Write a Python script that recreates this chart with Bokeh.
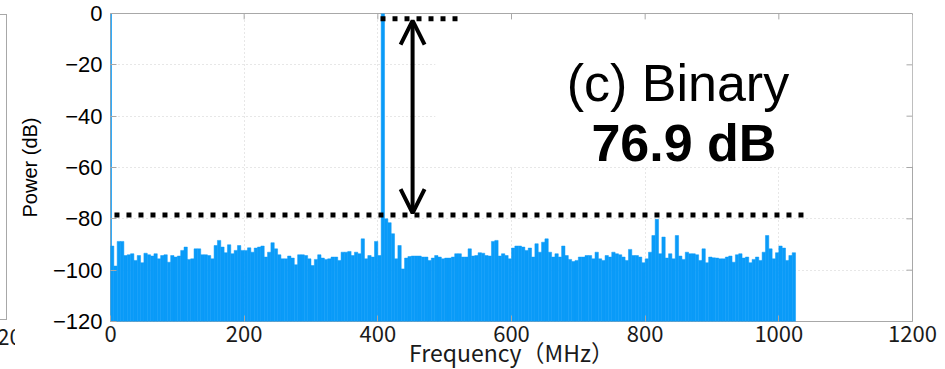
import numpy as np
from bokeh.plotting import figure
from bokeh.layouts import row
from bokeh.models import Arrow, OpenHead, Label, FixedTicker, Range1d, Div
from bokeh.embed import file_html
from bokeh.resources import INLINE

# ---------------- data ----------------
BIN_MHZ = 5.0
power_db = [
    -90.6, -98.4, -88.8, -88.8, -94.3, -94.0, -93.6, -96.2, -94.3, -97.1,
    -93.4, -94.0, -94.5, -93.6, -95.6, -94.3, -94.0, -96.9, -94.3, -94.9,
    -94.5, -92.3, -91.0, -95.8, -95.6, -91.7, -91.7, -94.0, -94.0, -94.3,
    -95.6, -90.4, -88.4, -91.0, -93.2, -90.1, -93.6, -92.3, -90.4, -92.3,
    -92.3, -91.3, -93.0, -91.4, -91.0, -90.6, -94.9, -93.0, -89.3, -91.7,
    -94.0, -95.6, -95.6, -94.5, -95.3, -97.9, -94.0, -94.0, -94.3, -95.6,
    -98.2, -95.8, -94.0, -95.3, -95.8, -95.6, -94.9, -94.9, -96.2, -93.0,
    -93.0, -92.7, -94.3, -93.0, -93.6, -87.8, -95.6, -94.3, -94.9, -88.8,
    -94.3, 0.0, -80.0, -81.5, -85.8, -95.6, -90.4, -99.5, -95.3, -94.7,
    -94.5, -94.5, -94.5, -94.9, -94.9, -96.2, -95.3, -94.3, -94.9, -95.6,
    -95.3, -95.3, -94.9, -93.6, -93.6, -94.9, -94.9, -91.7, -94.5, -94.3,
    -93.2, -93.4, -94.3, -94.5, -88.8, -88.4, -94.5, -93.6, -94.3, -95.6,
    -91.4, -90.6, -90.6, -91.0, -92.3, -91.4, -94.9, -89.7, -93.0, -89.1,
    -87.8, -93.0, -94.9, -93.6, -94.9, -90.6, -94.3, -95.8, -96.6, -96.2,
    -94.9, -94.9, -94.3, -94.3, -95.6, -93.0, -95.6, -96.2, -94.3, -94.9,
    -93.0, -93.6, -94.0, -94.9, -96.2, -91.9, -94.3, -94.3, -94.9, -97.1,
    -95.6, -93.0, -86.5, -80.2, -93.6, -87.1, -95.3, -93.6, -95.6, -86.5,
    -94.5, -95.8, -93.0, -93.6, -93.6, -94.0, -96.2, -91.7, -97.1, -94.9,
    -95.2, -95.3, -95.6, -95.6, -94.9, -94.5, -96.9, -94.0, -93.6, -95.3,
    -94.9, -97.1, -95.8, -94.9, -96.2, -93.0, -86.5, -91.7, -95.6, -93.2,
    -90.6, -91.4, -96.2, -94.3, -93.2,
]
dc_freq_mhz = [1.0]
dc_power_db = [0.0]

x_ticks = [0, 200, 400, 600, 800, 1000, 1200]
x_tick_labels = ["0", "200", "400", "600", "800", "1000", "1200"]
y_ticks = [-120, -100, -80, -60, -40, -20, 0]
y_tick_labels = ["\u2212120", "\u2212100", "\u221280", "\u221260", "\u221240", "\u221220", "0"]

carrier_ref_db = -2.0
carrier_marker_mhz = [404, 521]
floor_ref_db = -78.5
floor_marker_mhz = [-12, 1044]
arrow_x_mhz = 452
arrow_top_db = -2.8
arrow_bottom_db = -77.8

title_text = "(c) Binary"
sfdr_text = "76.9 dB"
x_label = "Frequency\uff08MHz\uff09"
y_label = "Power (dB)"

neighbour_tick_label = "1200"   # last x tick of the neighbouring panel, cut by the crop

BLUE = "#0A9BF8"
FRAME = "#a8a8a8"
GRID = "#cfcfcf"

freq_mhz = [BIN_MHZ * (k + 0.5) for k in range(len(power_db))]

# ---------------- remnant of the neighbouring panel (left edge) ----------------
remnant_html = (
    '<div style="position:relative;width:15px;height:369px;overflow:hidden;background:white;">'
    '<div style="position:absolute;left:-120px;top:14px;width:127px;height:306px;'
    'border:1px solid %s;box-sizing:border-box;"></div>'
    '<div style="position:absolute;left:-15px;top:322px;font-family:\'Noto Sans CJK JP\';'
    'font-size:22px;line-height:26px;color:#1a1a1a;white-space:nowrap;">%s</div>'
    '</div>' % (FRAME, neighbour_tick_label)
)
remnant = Div(text=remnant_html, width=15, height=369, margin=0)

# ---------------- main figure ----------------
p = figure(frame_width=802, frame_height=308,
           x_range=Range1d(0, 1200), y_range=Range1d(-120, 0),
           output_backend="svg", toolbar_location=None,
           min_border_left=93, min_border_right=35,
           min_border_top=13, min_border_bottom=48)
p.background_fill_color = "white"
p.border_fill_color = "white"
p.outline_line_color = FRAME
p.outline_line_width = 1

for ax in (p.xaxis[0], p.yaxis[0]):
    ax.axis_line_color = None
    ax.major_tick_in = 6
    ax.major_tick_out = 0
    ax.minor_tick_line_color = None
    ax.major_tick_line_color = FRAME

p.xaxis[0].ticker = FixedTicker(ticks=x_ticks)
p.xaxis[0].major_label_overrides = dict(zip(x_ticks, x_tick_labels))
p.xaxis[0].major_label_text_font = "Noto Sans CJK JP"
p.xaxis[0].major_label_text_font_size = "22px"
p.xaxis[0].major_label_text_color = "#1a1a1a"
p.xaxis[0].major_label_standoff = 4
p.xaxis[0].axis_label = x_label
p.xaxis[0].axis_label_text_font = "Noto Sans CJK JP"
p.xaxis[0].axis_label_text_font_size = "23px"
p.xaxis[0].axis_label_text_font_style = "normal"
p.xaxis[0].axis_label_text_color = "#1a1a1a"
p.xaxis[0].axis_label_standoff = -10

p.yaxis[0].ticker = FixedTicker(ticks=y_ticks)
p.yaxis[0].major_label_overrides = dict(zip(y_ticks, y_tick_labels))
p.yaxis[0].major_label_text_font = "Liberation Sans"
p.yaxis[0].major_label_text_font_size = "22px"
p.yaxis[0].major_label_text_color = "black"
p.yaxis[0].major_label_standoff = 8
p.yaxis[0].axis_label = y_label
p.yaxis[0].axis_label_text_font = "Liberation Sans"
p.yaxis[0].axis_label_text_font_size = "20px"
p.yaxis[0].axis_label_text_font_style = "normal"
p.yaxis[0].axis_label_text_color = "black"
p.yaxis[0].axis_label_standoff = 9

p.xgrid.ticker = FixedTicker(ticks=x_ticks)
p.ygrid.ticker = FixedTicker(ticks=y_ticks)
p.grid.grid_line_color = GRID
p.grid.grid_line_dash = "1 3"
p.grid.grid_line_width = 1

# white text box that hides the grid in the upper right
p.quad(left=[486], right=[1200], bottom=[-59.7], top=[-0.6],
       fill_color="white", line_color=None)

# mirrored tick marks on the top and right edges
inner_x = x_ticks[1:-1]
inner_y = y_ticks[1:-1]
p.segment(x0=inner_x, y0=[0] * len(inner_x), x1=inner_x, y1=[-2.3] * len(inner_x),
          line_color=FRAME, line_width=1)
p.segment(x0=[1200] * len(inner_y), y0=inner_y, x1=[1191] * len(inner_y), y1=inner_y,
          line_color=FRAME, line_width=1)

# spectrum
p.vbar(x=freq_mhz, width=BIN_MHZ, bottom=-120, top=power_db,
       fill_color=BLUE, line_color=BLUE, line_width=0.5)
p.vbar(x=dc_freq_mhz, width=2.0, bottom=-120, top=dc_power_db,
       fill_color=BLUE, line_color=None)

# dotted reference lines
p.line(x=carrier_marker_mhz, y=[carrier_ref_db] * 2, line_color="black",
       line_width=5, line_dash="5 7")
p.line(x=floor_marker_mhz, y=[floor_ref_db] * 2, line_color="black",
       line_width=5, line_dash="5 7")

# double headed arrow
p.add_layout(Arrow(x_start=arrow_x_mhz, y_start=arrow_bottom_db,
                   x_end=arrow_x_mhz, y_end=arrow_top_db,
                   start=OpenHead(size=24, line_width=4, line_color="black"),
                   end=OpenHead(size=24, line_width=4, line_color="black"),
                   line_width=4, line_color="black"))

# annotation texts
p.add_layout(Label(x=849, y=-26.9, text=title_text, text_font="Liberation Sans",
                   text_font_size="52px", text_align="center",
                   text_baseline="alphabetic", text_color="black"))
p.add_layout(Label(x=858, y=-50.6, text=sfdr_text, text_font="Liberation Sans",
                   text_font_size="52px", text_font_style="bold",
                   text_align="center", text_baseline="alphabetic",
                   text_color="black"))

layout = row(remnant, p, spacing=0)
open("out.html", "w").write(file_html(layout, INLINE))
